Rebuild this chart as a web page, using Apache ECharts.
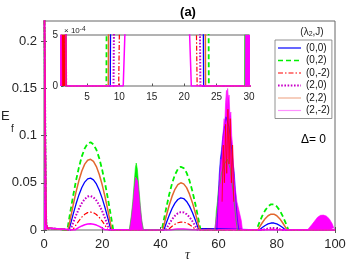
<!DOCTYPE html>
<html><head><meta charset="utf-8">
<script src="https://cdn.jsdelivr.net/npm/echarts@6/dist/echarts.min.js"></script>
<style>html,body{margin:0;padding:0;background:#fff}#c{width:349px;height:262px}</style>
</head><body><div id="c"></div>
<script>
// ---------- tick labels ----------
const tauTicks = [0, 20, 40, 60, 80, 100];
const efTicks = [0, 0.05, 0.1, 0.15, 0.2];
const insetTauTicks = [5, 10, 15, 20, 25, 30];
const insetEfTicks = [0, 0.0005];
const seriesNames = ['(0,0)', '(0,2)', '(0,-2)', '(2,0)', '(2,2)', '(2,-2)'];

// ---------- slowly varying curves [tau, Ef] ----------
const curve_00 = [[0,0.3],[0.45,0.3],[0.6,0.03],[0.8,0.006],[1.2,0.002],[1.7,0.0008],[1.8,0],
  [8.6,0],[9,0.0048],[10,0.0165],[11,0.0275],[12,0.0372],[13,0.045],[14,0.0508],[15,0.0542],[16,0.055],[17,0.0531],[18,0.0488],[19,0.0421],[20,0.0335],[21,0.0233],[22,0.0119],[23,0],
  [41.2,0],[42,0.0071],[43,0.0154],[44,0.0228],[45,0.0285],[46,0.0323],[47,0.034],[48,0.0333],[49,0.0303],[50,0.0253],[51,0.0185],[52,0.0105],[53,0.0018],[53.2,0],
  [74,0],[75,0.0026],[76,0.0048],[77,0.0065],[78,0.0074],[79,0.0074],[80,0.0065],[81,0.0048],[82,0.0026],[83,0],[100,0]];
const curve_02 = [[0,0.3],[0.45,0.3],[0.6,0.03],[0.8,0.006],[1.2,0.002],[1.7,0.0008],[1.8,0],
  [8,0],[9,0.0184],[10,0.036],[11,0.0523],[12,0.0664],[13,0.078],[14,0.0865],[15,0.0915],[16,0.093],[17,0.0908],[18,0.085],[19,0.0759],[20,0.0637],[21,0.0491],[22,0.0326],[23,0.0148],[23.8,0],
  [40.5,0],[41,0.0079],[42,0.0232],[43,0.0373],[44,0.0493],[45,0.0585],[46,0.0646],[47,0.067],[48,0.0656],[49,0.0607],[50,0.0523],[51,0.0411],[52,0.0276],[53,0.0125],[53.8,0],
  [73,0],[74,0.0078],[75,0.0149],[76,0.0208],[77,0.025],[78,0.0272],[79,0.0272],[80,0.025],[81,0.0208],[82,0.0149],[83,0.0078],[84,0],[100,0]];
const curve_0m2 = [[0,0.3],[0.45,0.3],[0.6,0.03],[0.8,0.006],[1.2,0.002],[1.7,0.0008],[1.8,0],
  [9.9,0],[10,0.0005],[11,0.0054],[12,0.0098],[13,0.0137],[14,0.0166],[15,0.0184],[16,0.019],[17,0.0183],[18,0.0164],[19,0.0133],[20,0.0094],[21,0.0049],[22,0],
  [42.5,0],[43,0.0014],[44,0.0039],[45,0.0061],[46,0.0077],[47,0.0084],[48,0.0083],[49,0.0074],[50,0.0057],[51,0.0034],[52,0.0008],[52.3,0],
  [76,0],[77,0.0003],[78,0.0006],[79,0.0006],[80,0.0003],[81,0],[100,0]];
const curve_20 = [[0,0.3],[0.45,0.3],[0.6,0.03],[0.8,0.006],[1.2,0.002],[1.7,0.0008],[1.8,0],
  [9.1,0],[10,0.0075],[11,0.0155],[12,0.0226],[13,0.0285],[14,0.0328],[15,0.0354],[16,0.036],[17,0.0346],[18,0.0313],[19,0.0263],[20,0.0199],[21,0.0124],[22,0.0042],[22.5,0],
  [41.8,0],[42,0.0011],[43,0.0064],[44,0.0112],[45,0.015],[46,0.0177],[47,0.0189],[48,0.0186],[49,0.0168],[50,0.0136],[51,0.0093],[52,0.0043],[52.8,0],
  [75,0],[76,0.0009],[77,0.0016],[78,0.002],[79,0.002],[80,0.0016],[81,0.0009],[82,0],[100,0]];
const curve_22 = [[0,0.3],[0.45,0.3],[0.6,0.03],[0.8,0.006],[1.2,0.002],[1.7,0.0008],[1.8,0],
  [8.3,0],[9,0.011],[10,0.0262],[11,0.0402],[12,0.0525],[13,0.0625],[14,0.0698],[15,0.0739],[16,0.0749],[17,0.0727],[18,0.0672],[19,0.0588],[20,0.0479],[21,0.0348],[22,0.0202],[23,0.0047],[23.3,0],
  [40.8,0],[41,0.0025],[42,0.0146],[43,0.0259],[44,0.0356],[45,0.0431],[46,0.048],[47,0.05],[48,0.0489],[49,0.0449],[50,0.038],[51,0.029],[52,0.0182],[53,0.0062],[53.5,0],
  [73.5,0],[74,0.0027],[75,0.0077],[76,0.012],[77,0.0151],[78,0.0168],[79,0.0168],[80,0.0151],[81,0.012],[82,0.0077],[83,0.0027],[83.5,0],[100,0]];
const curve_2m2 = [[0,0.3],[0.45,0.3],[0.6,0.03],[0.8,0.006],[1.2,0.002],[1.7,0.0008],[1.8,0],
  [10.6,0],[11,0.0008],[12,0.0027],[13,0.0043],[14,0.0055],[15,0.0063],[16,0.0065],[17,0.0061],[18,0.0052],[19,0.0038],[20,0.0021],[21,0.0002],[21.1,0],
  [43.5,0],[44,0.0004],[45,0.0008],[46,0.001],[47,0.001],[48,0.001],[49,0.0009],[50,0.0006],[51,0.0002],[51.5,0],[100,0]];

// ---------- envelopes of the fast oscillating bursts [tau, Ef] ----------
const burst_0m2_start = [[0,0.3],[0.45,0.3],[0.6,0.03],[0.8,0.006],[1.2,0.002],[1.7,0.0008],[1.8,0]];
const burst_2m2_start = [[0,0.3],[0.45,0.3],[0.6,0.02],[0.8,0.004],[1.05,0.0008],[1.12,0]];
const burst_02 = [[29.3,0],[30,0.015],[30.5,0.03],[31,0.05],[31.4,0.066],[31.7,0.071],[32.1,0.064],[32.6,0.045],[33.1,0.026],[33.6,0.01],[34.2,0],
  [58.8,0],[59.2,0.02],[59.6,0.03],[60,0.045],[60.5,0.05],[61,0.06],[62,0.07],[63,0.075],[64,0.065],[65,0.04],[66,0.01],[66.5,0]];
const burst_00 = [[59.4,0],[59.8,0.03],[60.2,0.058],[60.6,0.075],[61,0.085],[61.5,0.1],[62,0.11],[62.5,0.12],[63,0.12],[63.5,0.11],[64,0.1],[64.5,0.085],[65,0.07],[65.4,0.06],[65.8,0.04],[66.2,0.02],[66.6,0.008],[67,0]];
const burst_0m2 = [[61.2,0.03],[61.6,0.09],[62.0,0.05],[62.4,0.112],[62.8,0.06],[63.2,0.128],[63.6,0.07],[64.0,0.118],[64.4,0.05],[64.8,0.09],[65.2,0.03]];
const burst_2m2 = [[29.4,0],[30,0.012],[30.5,0.026],[31,0.042],[31.5,0.056],[31.8,0.058],[32.2,0.052],[32.7,0.036],[33.2,0.02],[33.7,0.007],[34.1,0],
  [58.6,0],[59,0.008],[59.3,0.015],[59.6,0.022],[59.9,0.035],[60.2,0.05],[60.5,0.062],[60.8,0.075],[61,0.07],[61.3,0.095],[61.6,0.105],[61.9,0.118],[62.1,0.11],[62.4,0.135],[62.7,0.148],[62.9,0.13],[63.1,0.15],[63.4,0.138],[63.6,0.143],[63.9,0.12],[64.2,0.125],[64.5,0.1],[64.8,0.09],[65.1,0.07],[65.4,0.055],[65.7,0.045],[66,0.038],[66.3,0.03],[66.6,0.032],[66.9,0.022],[67.2,0.018],[67.5,0.016],[67.8,0.01],[68.2,0],
  [90.5,0],[91,0.002],[92,0.0055],[93,0.0095],[94,0.0135],[95,0.0155],[95.6,0.016],[96,0.0158],[97,0.0148],[98,0.012],[99,0.007],[99.6,0.002],[100,0]];

const FONT = '"Liberation Sans", Arial, Helvetica, sans-serif';
const curves = [curve_00, curve_02, curve_0m2, curve_20, curve_22, curve_2m2];
const styles = [
  {color:'#0000FF', width:1.3, type:'solid'},
  {color:'#00F000', width:1.8, type:[5,3]},
  {color:'#FF0000', width:1.2, type:[5,2,1.5,2]},
  {color:'#C800C8', width:2, type:[1.6,1.6]},
  {color:'#E2672E', width:1.5, type:'solid'},
  {color:'#FF00FF', width:1.5, type:'solid'}
];
const legendColors = ['#0000FF','#00F000','#FF0000','#C800C8','#F0AE90','#FF90FF'];

function lineS(i, data, xi, yi) {
  return {type:'line', name:seriesNames[i], data:data, xAxisIndex:xi, yAxisIndex:yi,
    symbol:'none', showSymbol:false, silent:true, sampling:null,
    lineStyle:{color:styles[i].color, width:styles[i].width, type:styles[i].type},
    itemStyle:{color:styles[i].color}};
}
function areaS(i, data, xi, yi) {
  return {type:'line', name:seriesNames[i], data:data, xAxisIndex:xi, yAxisIndex:yi,
    symbol:'none', showSymbol:false, silent:true,
    lineStyle:{color:styles[i].color, width:0.6},
    areaStyle:{color:styles[i].color, opacity:1},
    itemStyle:{color:styles[i].color}};
}
const series = [];
[[0,0],[2,2]].forEach(function(ax){
  const xi = ax[0], yi = ax[1];
  curves.forEach(function(c, i){ series.push(lineS(i, c, xi, yi)); });
  series.push(areaS(2, burst_0m2_start, xi, yi));
  series.push(areaS(1, burst_02, xi, yi));
  series.push(areaS(0, burst_00, xi, yi));
  series.push(areaS(5, burst_2m2, xi, yi));
  series.push(areaS(5, burst_2m2_start, xi, yi));
  const z = lineS(2, burst_0m2, xi, yi); z.lineStyle = {color:'#FF0000', width:0.8, type:'solid'};
  series.push(z);
});

const tickStyle = {inside:true, length:3, lineStyle:{color:'#555', width:1}};
const option = {
  animation:false,
  backgroundColor:'#fff',
  textStyle:{fontFamily:FONT},
  grid:[
    {left:44, right:14, top:21, bottom:32, show:true, borderColor:'#666', borderWidth:1, backgroundColor:'rgba(0,0,0,0)'},
    {left:61, right:100, top:35, bottom:176, show:true, borderColor:'#666', borderWidth:1, backgroundColor:'#fff'}
  ],
  xAxis:[
    {gridIndex:0, type:'value', min:0, max:100, position:'bottom', axisLine:{show:false},
     axisTick:Object.assign({customValues:tauTicks}, tickStyle),
     axisLabel:{customValues:tauTicks, fontSize:13, color:'#262626', margin:8, fontFamily:FONT}, splitLine:{show:false}},
    {gridIndex:0, type:'value', min:0, max:100, position:'top', axisLine:{show:false},
     axisTick:Object.assign({customValues:tauTicks}, tickStyle), axisLabel:{show:false}, splitLine:{show:false}},
    {gridIndex:1, type:'value', min:1, max:30, position:'bottom', axisLine:{show:false},
     axisTick:{customValues:insetTauTicks, inside:true, length:2.5, lineStyle:{color:'#555'}},
     axisLabel:{customValues:insetTauTicks, fontSize:10, color:'#262626', margin:6, fontFamily:FONT}, splitLine:{show:false}}
  ],
  yAxis:[
    {gridIndex:0, type:'value', min:0, max:0.2215, position:'left', axisLine:{show:false},
     axisTick:Object.assign({customValues:efTicks}, tickStyle),
     axisLabel:{customValues:efTicks, fontSize:13, color:'#262626', margin:7, fontFamily:FONT,
       formatter:function(v){ return String(+v.toFixed(2)); }}, splitLine:{show:false}},
    {gridIndex:0, type:'value', min:0, max:0.2215, position:'right', axisLine:{show:false},
     axisTick:Object.assign({customValues:efTicks}, tickStyle), axisLabel:{show:false}, splitLine:{show:false}},
    {gridIndex:1, type:'value', min:0, max:0.0005, position:'left', axisLine:{show:false},
     axisTick:{customValues:insetEfTicks, inside:true, length:2.5, lineStyle:{color:'#555'}},
     axisLabel:{customValues:insetEfTicks, fontSize:10, color:'#262626', margin:3, fontFamily:FONT,
       formatter:function(v){ return String(Math.round(v*1e4)); }}, splitLine:{show:false}}
  ],
  legend:{
    orient:'vertical', left:275, top:40, itemWidth:23, itemHeight:10, itemGap:2.5,
    padding:[3,2,3,2], borderColor:'#777', borderWidth:0.8, backgroundColor:'#fff',
    textStyle:{fontSize:10, color:'#111', fontFamily:FONT}, selectedMode:false,
    data: seriesNames.map(function(n, i){
      return {name:n,
        itemStyle:{color:'rgba(0,0,0,0)', borderWidth:0, opacity:0},
        lineStyle:{color:legendColors[i], width: i===3 ? 2 : (i===1 ? 1.5 : 1.2), type:styles[i].type}};
    })
  },
  graphic:[
    {type:'text', x:188, y:12.5, style:{text:'(a)', font:'bold 13px ' + FONT, fill:'#000', textAlign:'center', textVerticalAlign:'middle'}},
    {type:'text', x:64, y:31, style:{text:'{n|× 10}{s|-4}', fill:'#262626', textAlign:'left', textVerticalAlign:'middle',
      rich:{n:{fontSize:8, fontFamily:FONT, lineHeight:10, fill:'#262626'}, s:{fontSize:6.5, fontFamily:FONT, lineHeight:6, verticalAlign:'top', fill:'#262626'}}}},
    {type:'text', x:312, y:32, style:{text:'{n|(λ}{s|2}{n|,J)}', textAlign:'center', textVerticalAlign:'middle',
      rich:{n:{fontSize:10, fontFamily:FONT, lineHeight:12, fill:'#222'}, s:{fontSize:7, fontFamily:FONT, lineHeight:6, verticalAlign:'bottom', fill:'#222'}}}},
    {type:'text', x:301, y:139.5, style:{text:'Δ= 0', font:'12px ' + FONT, fill:'#000', textAlign:'left', textVerticalAlign:'middle'}},
    {type:'text', x:1, y:116, style:{text:'E', font:'13px ' + FONT, fill:'#262626', textAlign:'left', textVerticalAlign:'middle'}},
    {type:'text', x:11, y:129, style:{text:'f', font:'10px ' + FONT, fill:'#262626', textAlign:'left', textVerticalAlign:'middle'}},
    {type:'text', x:187.5, y:255, style:{text:'τ', font:'italic 14px "Liberation Serif", "DejaVu Serif", serif', fill:'#262626', textAlign:'center', textVerticalAlign:'middle'}}
  ],
  series:series
};
const chart = echarts.init(document.getElementById('c'), null, {renderer:'canvas'});
chart.setOption(option);
</script></body></html>
